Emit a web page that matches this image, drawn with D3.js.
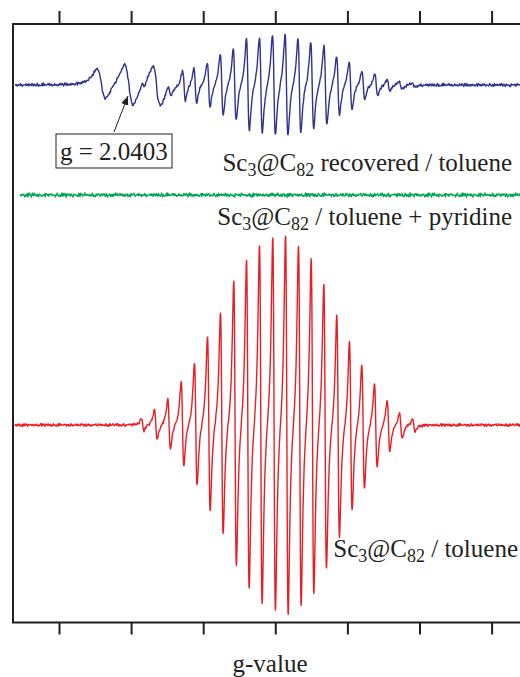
<!DOCTYPE html>
<html>
<head>
<meta charset="utf-8">
<script src="https://cdn.jsdelivr.net/npm/d3@7"></script>
<style>
  body { margin: 0; background: #fff; }
  svg { display: block; }
  text { font-family: "Liberation Serif", "Times New Roman", serif; fill: #231f20; }
</style>
</head>
<body>
<svg id="chart" width="520" height="677"></svg>
<script>
// field axis in tick units (ticks carry no labels), intensity in arbitrary units
const tickValues = [0, 1, 2, 3, 4, 5, 6];

// Sc3@C82 / toluene: 22 hyperfine lines
const redCenters = [1.162, 1.343, 1.527, 1.713, 1.897, 2.078, 2.258, 2.442, 2.619, 2.799, 2.983,
                    3.160, 3.340, 3.516, 3.691, 3.871, 4.047, 4.218, 4.394, 4.570, 4.741, 4.921];
const redAmps = [6, 15, 25, 42, 62, 88, 111, 143, 166, 181, 188,
                 191, 182, 169, 144, 112, 85, 62, 42, 26, 13, 6];

// Sc3@C82 recovered / toluene: same lines, weaker, plus broad signals (g = 2.0403 etc.)
const blueCenters = [1.172, 1.352, 1.533, 1.734, 1.890, 2.076, 2.257, 2.437, 2.620, 2.800, 2.981,
                     3.155, 3.334, 3.512, 3.695, 3.870, 4.044, 4.221, 4.401, 4.571, 4.738, 4.917];
const blueAmps = [3, 4, 6, 15, 17, 22, 31, 36, 46, 48, 51,
                  51, 47, 43, 40, 30, 24, 14, 11, 6, 4, 2];
const broadCenters = [0.587, 0.969, 1.355];
const broadAmps = [15, 21, 18];

// baseline offsets of the stacked traces
const offsets = { blue: 537, green: 427, red: 197 };

// hand-typed baseline jitter, two coprime lengths
const noiseA = [0.3, -0.8, 0.6, -0.2, 0.9, -0.5, 0.1, -0.9, 0.4, 0.7, -0.3, -0.6,
                0.8, -0.1, 0.5, -0.7, 0.2, 0.9, -0.4, -0.9, 0.6, 0.0, -0.5];
const noiseB = [-0.4, 0.7, -0.9, 0.2, 0.5, -0.6, 0.8, -0.1, -0.7, 0.3, 0.9, -0.3, 0.1, -0.8,
                0.6, -0.5, 0.4, 0.0, -0.2, 0.7, -0.9, 0.5, 0.2, -0.6, 0.8, -0.4, 0.3, -0.7, 0.1];

const labels = [
  { parts: ["Sc", "3", "@C", "82", " recovered / toluene"], x: 512, y: 171 },
  { parts: ["Sc", "3", "@C", "82", " / toluene + pyridine"], x: 512, y: 225 },
  { parts: ["Sc", "3", "@C", "82", " / toluene"], x: 518, y: 557 }
];

const svg = d3.select("#chart");
const frame = { left: 13, top: 24, bottom: 622.5, right: 524 };
const x = d3.scaleLinear().domain([0, 6]).range([59, 491.6]);
const y = d3.scaleLinear().domain([0, 600]).range([622, 22]);

// first-derivative Lorentzian, normalised to unit peak
function dlor(u) {
  return -2 * u / Math.pow(1 + u * u, 2) / 0.6495;
}

function jitter(i, off) {
  return noiseA[(i + off) % noiseA.length] + noiseB[(i * 2 + off) % noiseB.length];
}

function buildTrace(opts) {
  const step = 0.2 / (x(1) - x(0));
  const nodeStep = 0.6 / (x(1) - x(0));
  const xs = d3.range(x.invert(opts.from), x.invert(521), step);
  return xs.map(v => {
    let s = opts.base;
    opts.sets.forEach(set => {
      set.centers.forEach((c, j) => {
        s += set.amps[j] * dlor((v - c) / set.width);
      });
    });
    const t = (v - xs[0]) / nodeStep;
    const i = Math.floor(t), f = t - i;
    s += opts.noise * ((1 - f) * jitter(i, opts.seed) + f * jitter(i + 1, opts.seed));
    return [v, s];
  });
}

const traces = [
  {
    color: "#2e3192", from: 15, base: offsets.blue, noise: 1.0, seed: 3,
    sets: [
      { centers: blueCenters, amps: blueAmps, width: 0.035 },
      { centers: broadCenters, amps: broadAmps, width: 0.104 }
    ]
  },
  { color: "#00a651", from: 20, base: offsets.green, noise: 1.2, seed: 11, sets: [] },
  {
    color: "#ed1c24", from: 15, base: offsets.red, noise: 0.9, seed: 7,
    sets: [{ centers: redCenters, amps: redAmps, width: 0.032 }]
  }
];

const line = d3.line().x(d => x(d[0])).y(d => y(d[1]));

svg.append("g")
  .selectAll("path")
  .data(traces)
  .join("path")
  .attr("fill", "none")
  .attr("stroke", d => d.color)
  .attr("stroke-width", 1.4)
  .attr("stroke-linejoin", "round")
  .attr("d", d => line(buildTrace(d)));

// frame (open on the right, runs off the page)
svg.append("path")
  .attr("fill", "none")
  .attr("stroke", "#231f20")
  .attr("stroke-width", 2)
  .attr("d", `M${frame.right},${frame.top}H${frame.left}V${frame.bottom}H${frame.right}`);

// outward ticks, no labels
const topAxis = svg.append("g")
  .attr("transform", `translate(0,${frame.top})`)
  .call(d3.axisTop(x).tickValues(tickValues).tickSize(13).tickFormat(""));
const bottomAxis = svg.append("g")
  .attr("transform", `translate(0,${frame.bottom})`)
  .call(d3.axisBottom(x).tickValues(tickValues).tickSize(12).tickFormat(""));
[topAxis, bottomAxis].forEach(ax => {
  ax.select(".domain").remove();
  ax.selectAll("line").attr("stroke", "#231f20").attr("stroke-width", 2);
});

svg.append("text")
  .attr("x", 270)
  .attr("y", 672)
  .attr("text-anchor", "middle")
  .attr("font-size", 25)
  .text("g-value");

// trace labels with subscripts
labels.forEach(l => {
  const t = svg.append("text")
    .attr("x", l.x)
    .attr("y", l.y)
    .attr("text-anchor", "end")
    .attr("font-size", 25);
  l.parts.forEach((p, i) => {
    const sub = i === 1 || i === 3;
    const next = i === 2 || i === 4;
    t.append("tspan")
      .attr("font-size", sub ? 18 : 25)
      .attr("dy", sub ? 5 : next ? -5 : 0)
      .text(p);
  });
});

// g = 2.0403 callout
svg.append("rect")
  .attr("x", 56).attr("y", 134)
  .attr("width", 116).attr("height", 34)
  .attr("fill", "#fff")
  .attr("stroke", "#231f20")
  .attr("stroke-width", 1);
svg.append("text")
  .attr("x", 60).attr("y", 160)
  .attr("font-size", 25)
  .text("g = 2.0403");

svg.append("defs").append("marker")
  .attr("id", "arrow")
  .attr("viewBox", "0 0 10 10")
  .attr("refX", 10).attr("refY", 5)
  .attr("markerWidth", 9).attr("markerHeight", 9)
  .attr("markerUnits", "userSpaceOnUse")
  .attr("orient", "auto")
  .append("path")
  .attr("d", "M0,1L10,5L0,9Z")
  .attr("fill", "#231f20");
svg.append("line")
  .attr("x1", 114).attr("y1", 132)
  .attr("x2", 128).attr("y2", 96)
  .attr("stroke", "#231f20")
  .attr("stroke-width", 1)
  .attr("marker-end", "url(#arrow)");
</script>
</body>
</html>
